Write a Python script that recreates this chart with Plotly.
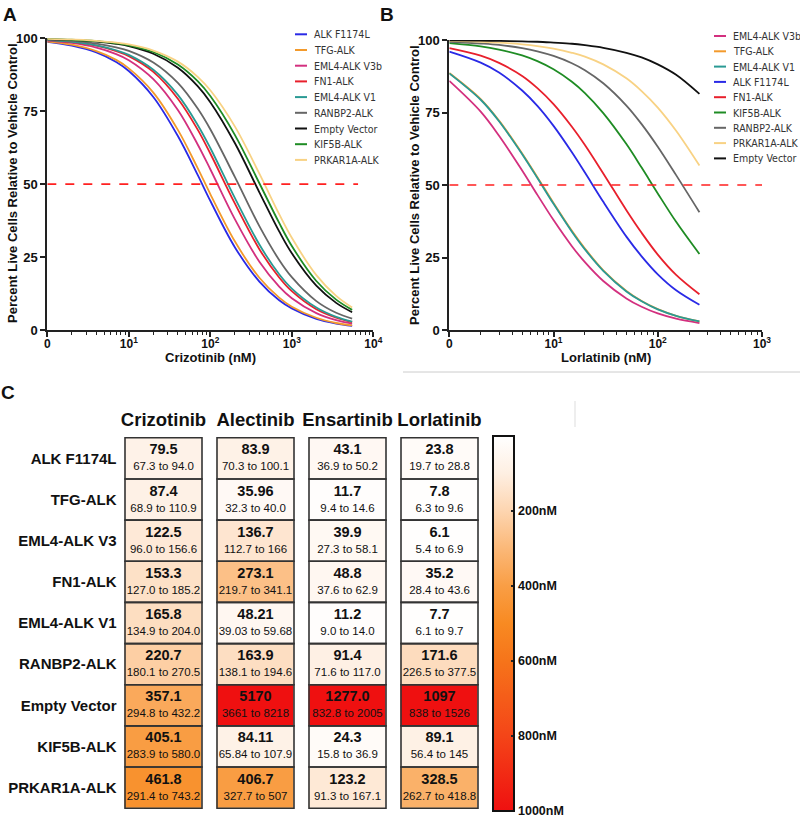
import plotly.graph_objects as go

W, H = 800, 818
def px(x): return x / W
def py(y): return (H - y) / H

FONT = "Liberation Sans, Arial, Helvetica, sans-serif"
LEGFONT = "DejaVu Sans Condensed, Liberation Sans Narrow, Liberation Sans, Arial, sans-serif"

# ---------------- Panel A (Crizotinib dose-response, % live cells) ----------------
a_names = ["ALK F1174L", "TFG-ALK", "EML4-ALK V3b", "FN1-ALK", "EML4-ALK V1",
           "RANBP2-ALK", "Empty Vector", "KIF5B-ALK", "PRKAR1A-ALK"]
a_colors = ["#2a2ae6", "#f39a2c", "#d3307f", "#e8202c", "#2a9a94",
            "#666666", "#111111", "#1f8c24", "#f8d284"]
a_x = [1, 2, 4, 7, 10, 20, 40, 70, 100, 200, 400, 700, 1000, 2000, 3500, 5500]
a_alk_f1174l = [98.8, 97.5, 95.2, 91.9, 88.8, 79.9, 66.5, 53.2, 44.3, 28.4, 16.6, 10.2, 7.4, 3.8, 2.2, 1.4]
a_tfg = [98.9, 97.8, 95.6, 92.6, 89.7, 81.4, 68.6, 55.5, 46.6, 30.4, 17.9, 11.1, 8.0, 4.2, 2.4, 1.6]
a_eml4_v3b = [99.2, 98.4, 96.8, 94.6, 92.5, 86.0, 75.4, 63.6, 55.1, 38.0, 23.4, 14.9, 10.9, 5.8, 3.4, 2.2]
a_fn1 = [99.4, 98.7, 97.5, 95.6, 93.9, 88.5, 79.3, 68.7, 60.5, 43.4, 27.7, 18.0, 13.3, 7.1, 4.2, 2.7]
a_eml4_v1 = [99.4, 98.8, 97.6, 95.9, 94.3, 89.2, 80.6, 70.3, 62.4, 45.3, 29.3, 19.1, 14.2, 7.7, 4.5, 2.9]
a_ranbp2 = [99.5, 99.1, 98.2, 96.9, 95.7, 91.7, 84.7, 75.9, 68.8, 52.5, 35.6, 24.0, 18.1, 9.9, 5.9, 3.9]
a_empty = [99.7, 99.4, 98.9, 98.1, 97.3, 94.7, 89.9, 83.6, 78.1, 64.1, 47.2, 33.8, 26.3, 15.2, 9.3, 6.1]
a_kif5b = [99.8, 99.5, 99.0, 98.3, 97.6, 95.3, 91.0, 85.3, 80.2, 66.9, 50.3, 36.7, 28.8, 16.8, 10.4, 6.9]
a_prkar1a = [99.8, 99.6, 99.1, 98.5, 97.9, 95.8, 92.0, 86.8, 82.2, 69.8, 53.6, 39.7, 31.6, 18.8, 11.7, 7.7]
a_series = [a_alk_f1174l, a_tfg, a_eml4_v3b, a_fn1, a_eml4_v1, a_ranbp2, a_empty, a_kif5b, a_prkar1a]

# ---------------- Panel B (Lorlatinib dose-response, % live cells) ----------------
b_names = ["EML4-ALK V3b", "TFG-ALK", "EML4-ALK V1", "ALK F1174L", "FN1-ALK",
           "KIF5B-ALK", "RANBP2-ALK", "PRKAR1A-ALK", "Empty Vector"]
b_colors = ["#d3307f", "#f39a2c", "#2a9a94", "#2a2ae6", "#e8202c",
            "#1f8c24", "#666666", "#f8d284", "#111111"]
b_x = [1, 2, 3, 5, 7, 10, 15, 20, 30, 50, 70, 100, 150, 251]
b_eml4_v3b = [85.9, 75.3, 67.0, 55.0, 46.6, 37.9, 28.9, 23.4, 16.9, 10.9, 8.0, 5.7, 3.9, 2.4]
b_tfg = [88.6, 79.6, 72.2, 60.9, 52.7, 43.8, 34.2, 28.1, 20.6, 13.5, 10.0, 7.2, 4.9, 3.0]
b_eml4_v1 = [88.5, 79.4, 72.0, 60.6, 52.4, 43.5, 33.9, 27.8, 20.4, 13.3, 9.9, 7.1, 4.9, 3.0]
b_alk_f1174l = [96.0, 92.2, 88.8, 82.6, 77.3, 70.4, 61.3, 54.3, 44.2, 32.2, 25.4, 19.2, 13.7, 8.7]
b_fn1 = [97.2, 94.6, 92.1, 87.6, 83.4, 77.9, 70.1, 63.8, 54.0, 41.3, 33.5, 26.0, 19.0, 12.3]
b_kif5b = [98.9, 97.8, 96.7, 94.7, 92.7, 89.9, 85.6, 81.7, 74.8, 64.1, 56.0, 47.1, 37.3, 26.2]
b_ranbp2 = [99.4, 98.8, 98.3, 97.2, 96.1, 94.5, 92.0, 89.6, 85.1, 77.4, 71.0, 63.2, 53.4, 40.6]
b_prkar1a = [99.7, 99.4, 99.1, 98.5, 97.9, 97.0, 95.6, 94.3, 91.6, 86.8, 82.4, 76.7, 68.7, 56.7]
b_empty = [99.9, 99.8, 99.7, 99.5, 99.4, 99.1, 98.7, 98.2, 97.3, 95.6, 94.0, 91.6, 88.0, 81.4]
b_series = [b_eml4_v3b, b_tfg, b_eml4_v1, b_alk_f1174l, b_fn1, b_kif5b, b_ranbp2, b_prkar1a, b_empty]

# ---------------- Panel C (IC50 table, nM) ----------------
c_rows = ["ALK F1174L", "TFG-ALK", "EML4-ALK V3", "FN1-ALK", "EML4-ALK V1",
          "RANBP2-ALK", "Empty Vector", "KIF5B-ALK", "PRKAR1A-ALK"]
c_drugs = ["Crizotinib", "Alectinib", "Ensartinib", "Lorlatinib"]
criz_val = ["79.5", "87.4", "122.5", "153.3", "165.8", "220.7", "357.1", "405.1", "461.8"]
criz_ci = ["67.3 to 94.0", "68.9 to 110.9", "96.0 to 156.6", "127.0 to 185.2", "134.9 to 204.0",
           "180.1 to 270.5", "294.8 to 432.2", "283.9 to 580.0", "291.4 to 743.2"]
alec_val = ["83.9", "35.96", "136.7", "273.1", "48.21", "163.9", "5170", "84.11", "406.7"]
alec_ci = ["70.3 to 100.1", "32.3 to 40.0", "112.7 to 166", "219.7 to 341.1", "39.03 to 59.68",
           "138.1 to 194.6", "3661 to 8218", "65.84 to 107.9", "327.7 to 507"]
ensa_val = ["43.1", "11.7", "39.9", "48.8", "11.2", "91.4", "1277.0", "24.3", "123.2"]
ensa_ci = ["36.9 to 50.2", "9.4 to 14.6", "27.3 to 58.1", "37.6 to 62.9", "9.0 to 14.0",
           "71.6 to 117.0", "832.8 to 2005", "15.8 to 36.9", "91.3 to 167.1"]
lorl_val = ["23.8", "7.8", "6.1", "35.2", "7.7", "171.6", "1097", "89.1", "328.5"]
lorl_ci = ["19.7 to 28.8", "6.3 to 9.6", "5.4 to 6.9", "28.4 to 43.6", "6.1 to 9.7",
           "226.5 to 377.5", "838 to 1526", "56.4 to 145", "262.7 to 418.8"]
cbar_vals = [200, 400, 600, 800, 1000]
cbar_text = ["200nM", "400nM", "600nM", "800nM", "1000nM"]

fig = go.Figure()

for n, c, ys in zip(a_names, a_colors, a_series):
    fig.add_trace(go.Scatter(x=a_x, y=ys, mode="lines", name=n, showlegend=False,
                             line=dict(color=c, width=1.8, shape="spline"),
                             xaxis="x", yaxis="y"))
fig.add_trace(go.Scatter(x=[1, 6500], y=[50, 50], mode="lines", showlegend=False,
                         line=dict(color="#ff2020", width=1.6, dash="dash"),
                         xaxis="x", yaxis="y"))
for n, c, ys in zip(b_names, b_colors, b_series):
    fig.add_trace(go.Scatter(x=b_x, y=ys, mode="lines", name=n, showlegend=False,
                             line=dict(color=c, width=1.8, shape="spline"),
                             xaxis="x2", yaxis="y2"))
fig.add_trace(go.Scatter(x=[1, 1000], y=[50, 50], mode="lines", showlegend=False,
                         line=dict(color="#ff2020", width=1.6, dash="dash"),
                         xaxis="x2", yaxis="y2"))

# heatmap (colour scale shown with 0 nM on top, so values are plotted negated)
cols_val = [criz_val, alec_val, ensa_val, lorl_val]
cols_ci = [criz_ci, alec_ci, ensa_ci, lorl_ci]
z = [[-min(float(cols_val[j][i]), 1000) for j in range(4)] for i in range(9)]
txt = [["<span style='font-size:14.5px'><b>%s</b></span><br><span style='font-size:11.5px'>%s</span>"
        % (cols_val[j][i], cols_ci[j][i]) for j in range(4)] for i in range(9)]
stops = [(0, "#ffffff"), (100, "#feefe2"), (200, "#fdd5b0"), (300, "#fbb878"),
         (400, "#f99e45"), (500, "#f88a22"), (600, "#f6741a"), (800, "#f44518"),
         (1000, "#ef1010")]
ZMIN = -1001
cscale = sorted([[(-v - ZMIN) / (-ZMIN), col] for v, col in stops])
cscale[0][0] = 0.0
fig.add_trace(go.Heatmap(
    x=list(range(4)), y=c_rows, z=z, text=txt, texttemplate="%{text}",
    textfont=dict(family=FONT, size=12, color="#111"),
    colorscale=cscale, zmin=ZMIN, zmax=0, xgap=15, ygap=0,
    xaxis="x3", yaxis="y3", hoverinfo="skip",
    colorbar=dict(x=px(493), xanchor="left", xref="paper", xpad=0, ypad=0,
                  y=py(436), yanchor="top", lenmode="pixels", len=375,
                  thicknessmode="pixels", thickness=21,
                  outlinewidth=2, outlinecolor="#111",
                  tickmode="array", tickvals=[-v for v in cbar_vals], ticktext=cbar_text,
                  ticks="inside", ticklen=4, tickwidth=2, tickcolor="#222",
                  ticklabeloverflow="allow",
                  tickfont=dict(family=FONT, size=12.5, color="#111", weight="bold"))))

shapes = []
for i in range(9):
    for j in range(4):
        shapes.append(dict(type="rect", xref="x3", yref="y3",
                           x0=j - 0.5 + 0.0815, x1=j + 0.5 - 0.0815, y0=i - 0.5, y1=i + 0.5,
                           line=dict(color="#333", width=1.6)))
# separators from the source figure
shapes.append(dict(type="line", xref="paper", yref="paper", x0=px(403), x1=1, y0=py(372), y1=py(372),
                   line=dict(color="#cccccc", width=1)))
shapes.append(dict(type="line", xref="paper", yref="paper", x0=px(575), x1=px(575), y0=py(401), y1=py(427),
                   line=dict(color="#dddddd", width=1)))

annotations = []
def legend(names, colors, x_line, x_text, y0, step):
    for k, (n, c) in enumerate(zip(names, colors)):
        yy = y0 + k * step
        shapes.append(dict(type="line", xref="paper", yref="paper", x0=px(x_line), x1=px(x_line + 12),
                           y0=py(yy), y1=py(yy), line=dict(color=c, width=2)))
        annotations.append(dict(text=n, xref="paper", yref="paper", x=px(x_text), y=py(yy),
                                xanchor="left", yanchor="middle", showarrow=False,
                                font=dict(family=LEGFONT, size=10.5, color="#333")))
legend(a_names, a_colors, 295, 312, 34.3, 15.7)
legend(b_names, b_colors, 714, 731, 36, 15.3)

def label(t, x, y, size, angle=0):
    annotations.append(dict(text=t, xref="paper", yref="paper", x=px(x), y=py(y),
                            xanchor="center", yanchor="middle", showarrow=False, textangle=angle,
                            font=dict(family=FONT, size=size, color="#111", weight="bold")))
label("A", 10, 14, 19)
label("B", 387, 15, 19)
label("C", 8, 392, 19)
label("Percent Live Cells Relative to Vehicle Control", 12, 183, 13, -90)
label("Percent Live Cells Relative to Vehicle Control", 415, 185, 13, -90)
label("Crizotinib (nM)", 210, 358, 13)
label("Lorlatinib (nM)", 606, 358, 13)

tick_font = dict(family=FONT, size=13, color="#111", weight="bold")
xt_font = dict(family=FONT, size=12, color="#111", weight="bold")
common_y = dict(range=[0, 100], tickvals=[0, 25, 50, 75, 100], ticks="outside", ticklen=5,
                tickwidth=1.5, tickcolor="#222", showline=True, linewidth=1.8, linecolor="#222",
                showgrid=False, zeroline=False, tickfont=tick_font)
minor = dict(ticks="outside", ticklen=3, tickwidth=1, tickcolor="#222", dtick="D1", showgrid=False)

fig.update_layout(
    width=W, height=H, margin=dict(l=0, r=0, t=0, b=0, pad=0, autoexpand=False),
    paper_bgcolor="white", plot_bgcolor="white", showlegend=False,
    xaxis=dict(domain=[px(47.3), px(373.3)], type="log", range=[0, 4], anchor="y",
               tickmode="array", tickvals=[1, 10, 100, 1000, 10000],
               ticktext=["0", "10<sup>1</sup>", "10<sup>2</sup>", "10<sup>3</sup>", "10<sup>4</sup>"],
               ticks="outside", ticklen=5, tickwidth=1.5, tickcolor="#222", minor=minor,
               ticklabelstandoff=-3,
               showline=True, linewidth=1.8, linecolor="#222", showgrid=False, zeroline=False,
               tickfont=xt_font, automargin=False),
    yaxis=dict(domain=[py(330), py(38.3)], anchor="x", automargin=False, **common_y),
    xaxis2=dict(domain=[px(449.3), px(762)], type="log", range=[0, 3], anchor="y2",
                tickmode="array", tickvals=[1, 10, 100, 1000],
                ticktext=["0", "10<sup>1</sup>", "10<sup>2</sup>", "10<sup>3</sup>"],
                ticks="outside", ticklen=5, tickwidth=1.5, tickcolor="#222", minor=minor,
                ticklabelstandoff=-3,
                showline=True, linewidth=1.8, linecolor="#222", showgrid=False, zeroline=False,
                tickfont=xt_font, automargin=False),
    yaxis2=dict(domain=[py(330), py(40)], anchor="x2", automargin=False, **common_y),
    xaxis3=dict(domain=[px(117.5), px(485.5)], range=[-0.5, 3.5], anchor="y3", side="top",
                tickmode="array", tickvals=[0, 1, 2, 3], ticktext=c_drugs, ticks="",
                ticklabelstandoff=6, automargin=False,
                showline=False, showgrid=False, zeroline=False,
                tickfont=dict(family=FONT, size=18.5, color="#111", weight="bold")),
    yaxis3=dict(domain=[py(809), py(437)], anchor="x3", autorange="reversed", ticks="",
                automargin=False, showline=False, showgrid=False, zeroline=False,
                tickfont=dict(family=FONT, size=15, color="#111", weight="bold")),
    shapes=shapes, annotations=annotations,
)
fig.write_html("out.html", config={"displayModeBar": False},
               post_script="document.body.style.margin='0';")
